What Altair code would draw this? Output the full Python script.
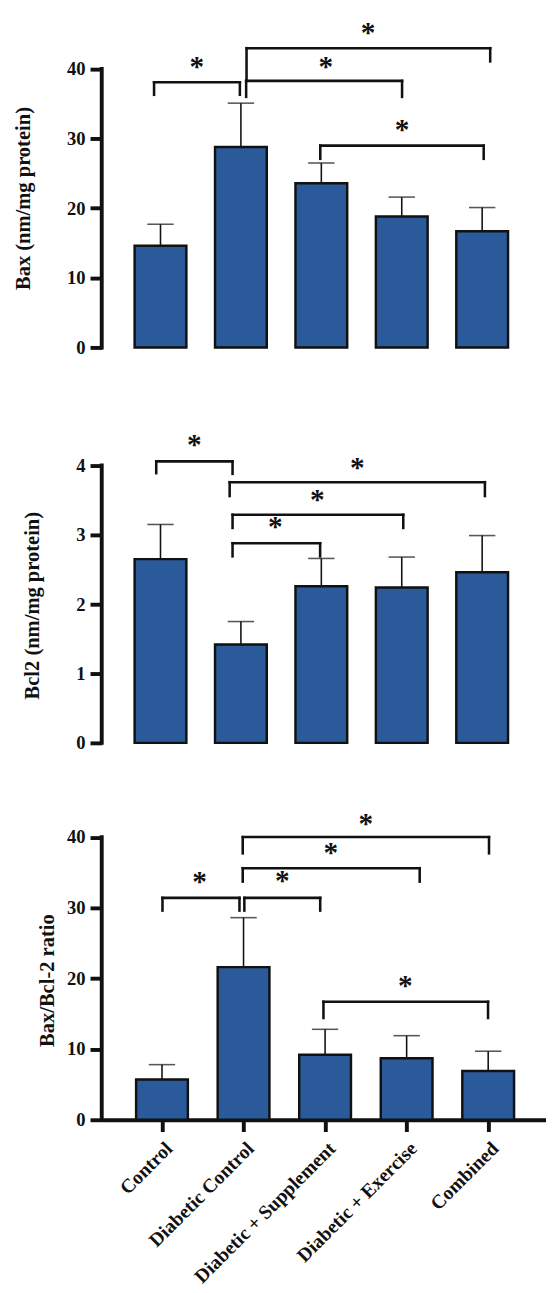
import altair as alt
import pandas as pd

# ---------------- data ----------------
categories = ["Control", "Diabetic Control", "Diabetic + Supplement",
              "Diabetic + Exercise", "Combined"]

bax_mean = [14.6, 28.8, 23.6, 18.8, 16.7]
bax_err = [3.1, 6.3, 2.9, 2.8, 3.4]

bcl2_mean = [2.65, 1.42, 2.26, 2.24, 2.46]
bcl2_err = [0.50, 0.33, 0.40, 0.44, 0.53]

ratio_mean = [5.7, 21.6, 9.2, 8.7, 6.9]
ratio_err = [2.1, 7.0, 3.6, 3.2, 2.8]

# significance brackets (x in group-index units, y in data units)
bax_br_x1 = [-0.08, 1.065, 1.07, 1.987]
bax_br_x2 = [0.987, 3.004, 4.10, 4.019]
bax_br_y = [38.1, 38.3, 43.0, 29.0]
bax_br_yl = [36.3, 36.0, 38.3, 27.1]
bax_br_yr = [36.3, 36.0, 41.1, 27.1]
bax_star_x = [0.453, 2.055, 2.58, 3.003]
bax_star_y = [40.7, 40.7, 45.6, 31.6]

bcl2_br_x1 = [-0.053, 0.86, 0.896, 0.896]
bcl2_br_x2 = [0.896, 4.034, 3.019, 1.985]
bcl2_br_y = [4.06, 3.76, 3.29, 2.88]
bcl2_br_yl = [3.89, 3.56, 3.10, 2.69]
bcl2_br_yr = [3.88, 3.56, 3.10, 2.69]
bcl2_star_x = [0.42, 2.446, 1.951, 1.428]
bcl2_star_y = [4.34, 4.01, 3.54, 3.15]

ratio_br_x1 = [0.006, 1.01, 0.99, 0.99, 1.98]
ratio_br_x2 = [0.95, 1.94, 3.16, 4.01, 3.998]
ratio_br_y = [31.4, 31.4, 35.6, 40.0, 16.7]
ratio_br_yl = [29.6, 29.6, 33.7, 37.7, 14.4]
ratio_br_yr = [29.6, 29.6, 33.7, 37.7, 14.4]
ratio_star_x = [0.46, 1.475, 2.07, 2.5, 2.985]
ratio_star_y = [34.1, 34.2, 38.1, 42.3, 19.25]

bax_ticks = [0, 10, 20, 30, 40]
bcl2_ticks = [0, 1, 2, 3, 4]
ratio_ticks = [0, 10, 20, 30, 40]

FONT = "Liberation Serif"
BAR = "#2a5a99"
INK = "#111111"


def bracket_df(x1, x2, y, yl, yr):
    rows = []
    for a, b, h, l, r in zip(x1, x2, y, yl, yr):
        rows.append({"xa": a, "xb": b, "ya": h, "yb": h})
        rows.append({"xa": a, "xb": a, "ya": l, "yb": h})
        rows.append({"xa": b, "xb": b, "ya": r, "yb": h})
    return pd.DataFrame(rows)


def panel(mean, err, br, stars, ticks, ymax, height, xdom, width,
          title, title_pad, title_y, show_x):
    df = pd.DataFrame({"idx": list(range(len(categories))),
                       "cat": categories, "mean": mean,
                       "upper": [m + e for m, e in zip(mean, err)]})
    xs = alt.Scale(domain=xdom, nice=False, zero=False)
    ys = alt.Scale(domain=[0, ymax], nice=False, zero=True)

    if show_x:
        lab_expr = "[" + ",".join("'" + c + "'" for c in categories) + "][datum.value]"
        xaxis = alt.Axis(values=list(range(len(categories))), labelExpr=lab_expr,
                         title=None, grid=False, domain=True, domainColor=INK,
                         domainWidth=4, ticks=True, tickSize=12, tickWidth=4,
                         tickColor=INK, labelAngle=-45, labelAlign="right",
                         labelBaseline="top", labelPadding=7, labelFont=FONT,
                         labelFontSize=20, labelFontWeight="bold",
                         labelColor=INK, labelOverlap=False, labelLimit=400)
    else:
        xaxis = None

    yaxis = alt.Axis(values=ticks, title=title, grid=False, domain=False,
                     tickSize=12, tickWidth=4, tickColor=INK,
                     labelFont=FONT, labelFontSize=19, labelFontWeight="bold",
                     labelColor=INK, labelPadding=5,
                     titleFont=FONT, titleFontSize=21, titleFontWeight="bold",
                     titleColor=INK, titlePadding=title_pad, titleY=title_y)

    base = alt.Chart(df)
    bars = base.mark_bar(size=53, color=BAR, stroke=INK, strokeWidth=2.5).encode(
        x=alt.X("idx:Q", scale=xs, axis=xaxis),
        y=alt.Y("mean:Q", scale=ys, axis=yaxis),
    )
    err_line = base.mark_rule(color=INK, strokeWidth=1.6).encode(
        x=alt.X("idx:Q", scale=xs, axis=xaxis),
        y=alt.Y("mean:Q", scale=ys, axis=yaxis),
        y2="upper:Q",
    )
    cap = base.mark_tick(orient="horizontal", size=27, thickness=1.6,
                         color=INK).encode(
        x=alt.X("idx:Q", scale=xs, axis=xaxis),
        y=alt.Y("upper:Q", scale=ys, axis=yaxis),
    )
    yline = alt.Chart(pd.DataFrame({"lo": [ticks[0]], "hi": [ticks[-1]]})).mark_rule(
        color=INK, strokeWidth=4, strokeCap="square").encode(
        x=alt.value(0),
        y=alt.Y("lo:Q", scale=ys, axis=yaxis),
        y2="hi:Q",
    )
    brk = alt.Chart(bracket_df(*br)).mark_rule(color=INK, strokeWidth=2.6,
                                               strokeCap="square").encode(
        x=alt.X("xa:Q", scale=xs, axis=xaxis),
        x2="xb:Q",
        y=alt.Y("ya:Q", scale=ys, axis=yaxis),
        y2="yb:Q",
    )
    st = alt.Chart(pd.DataFrame({"sx": stars[0], "sy": stars[1]})).mark_text(
        text="*", font=FONT, fontSize=30, fontWeight="bold", color=INK,
        baseline="middle", align="center", dy=3).encode(
        x=alt.X("sx:Q", scale=xs, axis=xaxis),
        y=alt.Y("sy:Q", scale=ys, axis=yaxis),
    )
    return alt.layer(bars, err_line, cap, yline, brk, st).properties(
        width=width, height=height)


p1 = panel(bax_mean, bax_err,
           (bax_br_x1, bax_br_x2, bax_br_y, bax_br_yl, bax_br_yr),
           (bax_star_x, bax_star_y), bax_ticks, 47, 335,
           [-0.67, 4.466], 433, "Bax (nm/mg protein)", 34, 182, False)
p2 = panel(bcl2_mean, bcl2_err,
           (bcl2_br_x1, bcl2_br_x2, bcl2_br_y, bcl2_br_yl, bcl2_br_yr),
           (bcl2_star_x, bcl2_star_y), bcl2_ticks, 4.76, 338,
           [-0.67, 4.466], 433, "Bcl2 (nm/mg protein)", 34, 197, False)
p3 = panel(ratio_mean, ratio_err,
           (ratio_br_x1, ratio_br_x2, ratio_br_y, ratio_br_yl, ratio_br_yr),
           (ratio_star_x, ratio_star_y), ratio_ticks, 43.8, 317,
           [-0.679, 4.649], 455, "Bax/Bcl-2 ratio", 9, 174, True)

chart = alt.vconcat(p1, p2, p3, spacing=57).properties(
    padding={"left": 5, "top": -6, "right": 0, "bottom": 0},
    background="white",
).configure_view(stroke=None)

chart.save("out.html", embed_options={"renderer": "svg", "actions": False})
